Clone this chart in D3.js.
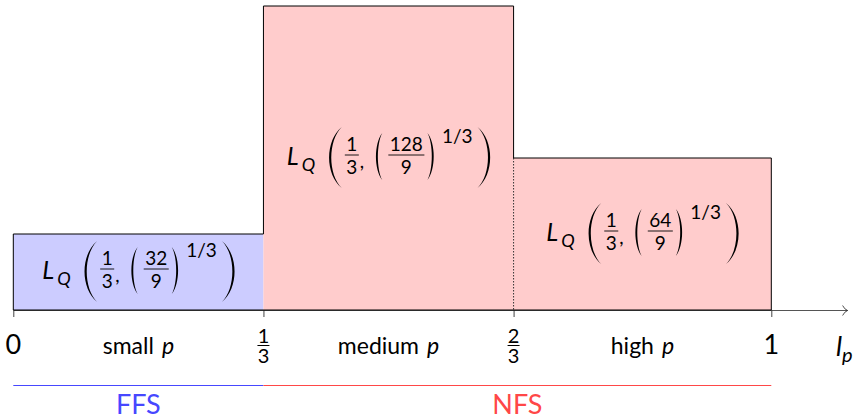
<!DOCTYPE html>
<html>
<head>
<meta charset="utf-8">
<script src="https://cdn.jsdelivr.net/npm/d3@7"></script>
<style>
body { margin: 0; background: #fff; }
text { font-family: Lato, "DejaVu Sans", sans-serif; fill: #000; }
</style>
</head>
<body>
<div id="mainDiv"></div>
<script>
// regime boundaries on the l_p axis (0, 1/3, 2/3, 1 drawn at 0, 3.3, 6.6, 10)
const bounds = [0, 3.3, 6.6, 10];
const tickNames = ["0", "1/3", "2/3", "1"];
// step heights of the three regimes
const heights = [1, 4, 2];
const numerators = ["32", "128", "64"];
const regimes = ["small", "medium", "high"];
const fills = ["#ccccff", "#ffcccc", "#ffcccc"];
// algorithms under the axis
const methods = ["FFS", "NFS"];
const methodFrom = [0, 3.3];
const methodTo = [3.3, 10];
const methodColors = ["#4747ff", "#ff4747"];

let width = 856,
	height = 419;

let svg = d3.select("#mainDiv").append("svg")
				.attr("width", width)
				.attr("height", height);

let x = d3.scaleLinear().domain([0, 11]).range([13.3, 847.1]),
	y = d3.scaleLinear().domain([0, 4]).range([310, 6]);

let cells = heights.map(function(h, i) {
	return {x0: bounds[i], x1: bounds[i + 1], h: h, num: numerators[i], name: regimes[i], fill: fills[i]};
});

// canvas for text measurements
let ctx = document.createElement("canvas").getContext("2d");
function measure(t, size, ital) {
	ctx.font = (ital ? "italic " : "") + size + "px Lato";
	return ctx.measureText(t).width;
}

// arrow head
svg.append("defs").append("marker")
	.attr("id", "arrow")
	.attr("markerUnits", "userSpaceOnUse")
	.attr("markerWidth", 8).attr("markerHeight", 12)
	.attr("refX", 6).attr("refY", 6)
	.attr("orient", "auto")
	.append("path")
	.attr("d", "M1,1 Q3,5 6,6 Q3,7 1,11")
	.attr("fill", "none")
	.attr("stroke", "#222")
	.attr("stroke-width", 0.8);

// filled steps
svg.selectAll(".cell")
	.data(cells)
	.enter().append("rect")
	.attr("class", "cell")
	.attr("x", function(d) { return x(d.x0); })
	.attr("y", function(d) { return y(d.h); })
	.attr("width", function(d) { return x(d.x1) - x(d.x0); })
	.attr("height", function(d) { return y(0) - y(d.h); })
	.attr("fill", function(d) { return d.fill; });

// axis (gray part beyond 1 stays visible)
let axis = d3.axisBottom(x).tickValues(bounds).tickSize(7).tickSizeOuter(0).tickFormat("");
let ax = svg.append("g").attr("transform", "translate(0," + y(0) + ")").call(axis);
ax.select(".domain").attr("stroke", "#555").attr("stroke-width", 1).attr("marker-end", "url(#arrow)");
ax.selectAll(".tick line").attr("stroke", "#444").attr("stroke-width", 1);

// outline of the step function, closed along the axis
let pts = [[bounds[3], 0], [bounds[0], 0]].concat(cells.map(function(d) { return [d.x0, d.h]; }),
	[[bounds[3], heights[2]], [bounds[3], 0]]);
svg.append("path")
	.attr("d", d3.line().x(function(d) { return x(d[0]); }).y(function(d) { return y(d[1]); }).curve(d3.curveStepAfter)(pts))
	.attr("fill", "none")
	.attr("stroke", "#000")
	.attr("stroke-width", 1);

// dotted part of the 2/3 boundary
svg.append("line")
	.attr("x1", x(bounds[2])).attr("x2", x(bounds[2]))
	.attr("y1", y(heights[2])).attr("y2", y(0))
	.attr("stroke", "#000")
	.attr("stroke-width", 0.8)
	.attr("stroke-dasharray", "1.5,1.5");

// tick labels
tickNames.forEach(function(t, i) {
	let cx = x(bounds[i]);
	if (t.indexOf("/") < 0) {
		svg.append("text").attr("x", cx).attr("y", y(0) + 44)
			.attr("text-anchor", "middle").attr("font-size", 27).text(t);
	} else {
		let p = t.split("/");
		let ft = svg.append("text").attr("text-anchor", "middle").attr("font-size", 20);
		ft.append("tspan").attr("x", cx).attr("y", y(0) + 33).text(p[0]);
		ft.append("tspan").attr("x", cx).attr("y", y(0) + 53).text(p[1]);
		svg.append("line").attr("x1", cx - 6).attr("x2", cx + 6)
			.attr("y1", y(0) + 35.5).attr("y2", y(0) + 35.5)
			.attr("stroke", "#000").attr("stroke-width", 1);
	}
});

// regime names
let rn = svg.selectAll(".regime")
	.data(cells)
	.enter().append("text")
	.attr("class", "regime")
	.attr("x", function(d) { return (x(d.x0) + x(d.x1)) / 2; })
	.attr("y", y(0) + 44)
	.attr("text-anchor", "middle")
	.attr("font-size", 23);
rn.append("tspan").text(function(d) { return d.name; });
rn.append("tspan").attr("dx", 8).attr("font-style", "italic").text("p");

// axis name l_p
let lp = svg.append("text").attr("x", 836).attr("y", y(0) + 46).attr("font-size", 27).attr("font-style", "italic");
lp.append("tspan").text("l");
lp.append("tspan").attr("dy", 6).attr("font-size", 20).text("p");

// FFS / NFS
methods.forEach(function(m, i) {
	svg.append("line")
		.attr("x1", x(methodFrom[i])).attr("x2", x(methodTo[i]))
		.attr("y1", 385.5).attr("y2", 385.5)
		.attr("stroke", methodColors[i]).attr("stroke-width", 1);
	svg.append("text")
		.attr("x", (x(methodFrom[i]) + x(methodTo[i])) / 2)
		.attr("y", 414)
		.attr("text-anchor", "middle")
		.attr("font-size", 27)
		.style("fill", methodColors[i])
		.text(m);
});

// L_Q(1/3, (n/9)^(1/3)) labels
function put(g, t, px, py, size, ital) {
	return g.append("text").attr("x", px).attr("y", py).attr("font-size", size)
		.attr("font-style", ital ? "italic" : null).text(t);
}
// a stretched delimiter, drawn like TeX's extensible parens
function paren(g, left, x0, w, top, bottom, t) {
	let h = bottom - top,
		xa = left ? x0 + w : x0,
		xc = left ? x0 - 0.3 * w : x0 + 1.3 * w,
		xi = left ? xc + t * 4 / 3 : xc - t * 4 / 3;
	g.append("path")
		.attr("d", "M" + xa + "," + top
			+ "C" + xc + "," + (top + h * 0.22) + " " + xc + "," + (top + h * 0.78) + " " + xa + "," + bottom
			+ "C" + xi + "," + (top + h * 0.78) + " " + xi + "," + (top + h * 0.22) + " " + xa + "," + top + "Z")
		.attr("fill", "#000");
	return x0 + w;
}
function frac(g, n, d, x0, size) {
	let w = Math.max(measure(n, size), measure(d, size)) + 3;
	let ft = g.append("text").attr("font-size", size).attr("text-anchor", "middle");
	ft.append("tspan").attr("x", x0 + w / 2).attr("y", -14).text(n);
	ft.append("tspan").attr("x", x0 + w / 2).attr("y", 8.5).text(d);
	g.append("line").attr("x1", x0).attr("x2", x0 + w).attr("y1", -10).attr("y2", -10)
		.attr("stroke", "#000").attr("stroke-width", 0.9);
	return x0 + w;
}
function mathLabel(g, num) {
	put(g, "L", 0, 0, 25, true);
	put(g, "Q", 15, 6, 18, true);
	let cur = paren(g, true, 42, 13, -38, 23, 2.2) + 3;
	cur = frac(g, "1", "3", cur, 19) + 1;
	put(g, ",", cur, 3, 19);
	cur += 16;
	cur = paren(g, true, cur, 6.5, -32, 15, 1.9) + 6;
	cur = frac(g, num, "9", cur, 19) + 3;
	cur = paren(g, false, cur, 6.5, -32, 15, 1.9) + 8;
	put(g, "1/3", cur, -22, 19);
	cur += measure("1/3", 19) + 5;
	paren(g, false, cur, 13, -38, 23, 2.2);
}

cells.forEach(function(d) {
	let g = svg.append("g");
	mathLabel(g, d.num);
	let bb = g.node().getBBox();
	let cx = (x(d.x0) + x(d.x1)) / 2,
		cy = (y(d.h) + y(0)) / 2;
	g.attr("transform", "translate(" + (cx - bb.x - bb.width / 2) + "," + (cy + 7) + ")");
});
</script>
</body>
</html>
